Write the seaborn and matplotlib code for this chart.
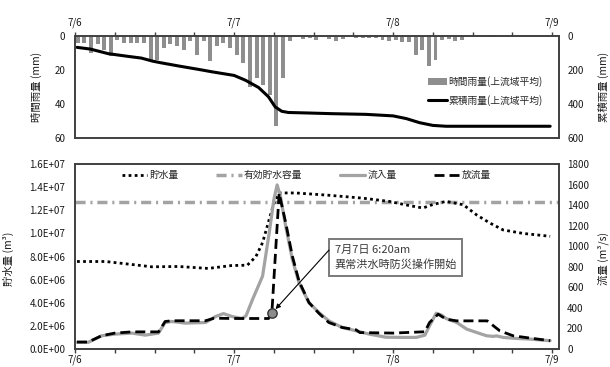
import matplotlib
matplotlib.use('Agg')
import matplotlib.pyplot as plt
import matplotlib.ticker as mticker
import seaborn as sns
from matplotlib.lines import Line2D
from matplotlib.patches import Patch

# ---------------- data ----------------
day_ticks = [0, 24, 48, 72]
day_labels = ['7/6', '7/7', '7/8', '7/9']

# hourly rainfall (mm), hours from 7/6 0:00
rain_hour = list(range(72))
rain_mm = [4, 4, 10, 5, 8, 12, 2.5, 4, 4, 4, 4, 14, 14, 7, 5, 6, 8, 3, 11, 3, 15, 6, 4, 7,
           11, 16, 30, 25, 29, 35, 53, 25, 3.2, 0.5, 1.6, 1, 2.2, 0.5, 2, 2.8, 1.6, 0.3,
           1.2, 1.2, 1.2, 1.2, 2.4, 3.2,
           2.2, 3.7, 3.7, 11.4, 8.5, 17.7, 14, 2.2, 1.6, 3.2, 2.2, 0, 0, 0, 0.4, 0.4,
           0, 0, 0, 0, 0, 0, 0, 0]

# cumulative rainfall (mm)
cum_hour = [0.3, 2.3, 5, 8, 10, 11.7, 13, 15.7, 18.7, 20.7, 24, 25.7, 27.7, 29.2, 30.2,
            31.2, 32.2, 35.2, 38.8, 43.9, 48, 50, 52, 54, 56, 60, 66, 71.7]
cum_mm = [67, 77, 104, 120, 130, 148, 158, 177, 197, 211, 232, 260, 303, 358, 417,
          443, 450, 453, 457, 461, 470, 486, 510, 526, 531, 531, 531, 531]

# storage (m3)
storage_hour = [0.3, 4.6, 8.6, 11.6, 15.6, 20.1, 23.6, 26, 27.3, 28.3, 29.3, 30, 30.8,
                33.3, 38.3, 43.4, 47.4, 50.5, 52.5, 54, 56, 58.6, 60.6, 62.6, 64.6,
                67.6, 71.7]
storage_m3 = [7.57e6, 7.57e6, 7.31e6, 7.11e6, 7.14e6, 6.97e6, 7.22e6, 7.25e6, 8.0e6,
              9.2e6, 11.2e6, 12.6e6, 13.5e6, 13.5e6, 13.3e6, 13.05e6, 12.77e6, 12.4e6,
              12.2e6, 12.5e6, 12.77e6, 12.48e6, 11.6e6, 10.9e6, 10.3e6, 10.0e6, 9.75e6]
capacity_m3 = 1.27e7

# inflow (m3/s)
inflow_hour = [0.3, 2, 4, 6, 8.6, 10.6, 12.6, 13.6, 14.6, 16.6, 19.7, 21.2, 22.4, 23.7,
               25.2, 25.8, 26.8, 28.3, 29.3, 30, 30.5, 31, 31.8, 32.8, 33.8, 35.3, 36.8,
               38.3, 40.3, 42.4, 44.4, 46.9, 49.5, 51.5, 52.8, 53.5, 54.5, 55.3, 56,
               57.6, 59.1, 60.6, 62.1, 63.1, 63.6, 64.6, 66.6, 68.6, 71.7]
inflow_q = [65, 65, 129, 145, 155, 135, 155, 258, 268, 252, 258, 316, 345, 316,
            297, 323, 484, 709, 1129, 1452, 1597, 1484, 1193, 871, 645, 452, 355,
            274, 210, 177, 145, 115, 113, 113, 135, 226, 348, 330, 297,
            258, 194, 161, 129, 123, 128, 113, 103, 97, 81]

# outflow (m3/s)
outflow_hour = [0.3, 2, 4, 6, 8.6, 12.6, 13.6, 14.6, 19.7, 21, 23.7, 29.2, 29.7, 30.8,
                31.8, 32.8, 33.8, 35.3, 36.8, 38.3, 40.3, 42.4, 43, 48, 52.8, 53.5,
                54.8, 56, 57.6, 62.2, 64.1, 66.1, 68.7, 71.7]
outflow_q = [68, 68, 129, 155, 167, 167, 268, 275, 275, 300, 297, 297, 348, 1516,
             1226, 903, 661, 452, 348, 258, 210, 187, 160, 155, 168, 258,
             339, 290, 274, 274, 177, 129, 106, 81]

# start of emergency operation (7/7 6:20am) marker
op_hour = 29.7
op_q = 348

label_rain = '時間雨量(上流域平均)'
label_cum = '累積雨量(上流域平均)'
label_storage = '貯水量'
label_capacity = '有効貯水容量'
label_inflow = '流入量'
label_outflow = '放流量'
annot_text = '7月7日 6:20am\n異常洪水時防災操作開始'

# ---------------- style ----------------
sns.set_style('ticks')
plt.rcParams['font.family'] = ['Noto Sans CJK JP', 'DejaVu Sans']
plt.rcParams['axes.unicode_minus'] = False

SP = '#404040'
GRAY_BAR = '#8e8e8e'
GRAY_LINE = '#a3a3a3'
TXT = '#1a1a1a'
FS = 7

fig = plt.figure(figsize=(6.10, 3.67), dpi=100)
fig.patch.set_facecolor('white')

# ---------------- top panel ----------------
ax_t = fig.add_axes([0.123, 0.624, 0.793, 0.278])
ax_t2 = ax_t.twinx()

sns.barplot(x=[h + 0.4 for h in rain_hour], y=rain_mm, native_scale=True, width=0.6,
            color=GRAY_BAR, errorbar=None, linewidth=0, saturation=1, ax=ax_t)
sns.lineplot(x=cum_hour, y=cum_mm, color='black', lw=2.2, ax=ax_t2)

ax_t.set_xlim(0, 73)
ax_t.set_ylim(60, 0)
ax_t2.set_ylim(600, 0)
ax_t.set_yticks([0, 20, 40, 60])
ax_t2.set_yticks([0, 200, 400, 600])
ax_t.xaxis.tick_top()
ax_t.set_xticks(day_ticks)
ax_t.set_xticklabels(day_labels)
ax_t.set_xticks(range(0, 73, 6), minor=True)
ax_t.tick_params(axis='x', which='both', direction='out', length=3, width=1,
                 color=SP, pad=2.5, labelsize=FS, labelcolor=TXT, top=True, bottom=False)
ax_t.tick_params(axis='y', length=0, pad=7, labelsize=FS, labelcolor=TXT)
ax_t2.tick_params(axis='y', length=0, pad=6.5, labelsize=FS, labelcolor=TXT)
ax_t.set_xlabel('')
ax_t.set_ylabel('時間雨量 (mm)', fontsize=7.5, color=TXT)
ax_t2.set_ylabel('累積雨量 (mm)', fontsize=7.5, color=TXT, rotation=90)
ax_t.yaxis.set_label_coords(-0.068, 0.5)
ax_t2.yaxis.set_label_coords(1.081, 0.5)
for a in (ax_t, ax_t2):
    for s in a.spines.values():
        s.set_visible(True)
        s.set_color(SP)
        s.set_linewidth(1.2)

h_top = [Patch(facecolor=GRAY_BAR, edgecolor='none'),
         Line2D([], [], color='black', lw=2.2)]
ax_t2.legend(h_top, [label_rain, label_cum], loc='center left',
             bbox_to_anchor=(0.729, 0.46), frameon=False, fontsize=FS,
             handlelength=2.0, handletextpad=0.1, labelspacing=0.75,
             borderpad=0, borderaxespad=0)

# ---------------- bottom panel ----------------
ax_b = fig.add_axes([0.123, 0.049, 0.793, 0.504])
ax_b2 = ax_b.twinx()

dot_ls = (0, (1, 1.2))
dashdot_ls = (0, (2.9, 1.4, 0.6, 1.4))
dash_ls = (0, (3.6, 1.8))

ax_b.axhline(capacity_m3, color=GRAY_LINE, lw=2.5, linestyle=dashdot_ls)
sns.lineplot(x=storage_hour, y=storage_m3, color='black', lw=2.0,
             linestyle=dot_ls, ax=ax_b)
sns.lineplot(x=inflow_hour, y=inflow_q, color=GRAY_LINE, lw=2.3, ax=ax_b2)
sns.lineplot(x=outflow_hour, y=outflow_q, color='black', lw=2.0,
             linestyle=dash_ls, ax=ax_b2)
sns.scatterplot(x=[op_hour], y=[op_q], s=45, color='#8c8c8c', edgecolor='#333333',
                linewidth=1.0, zorder=6, ax=ax_b2)

ax_b.set_xlim(0, 73)
ax_b.set_ylim(0, 1.6e7)
ax_b2.set_ylim(0, 1800)
ax_b.set_yticks([i * 2e6 for i in range(9)])
ax_b.yaxis.set_major_formatter(mticker.FuncFormatter(lambda v, p: f'{v:.1E}'))
ax_b2.set_yticks(range(0, 1801, 200))
ax_b.set_xticks(day_ticks)
ax_b.set_xticklabels(day_labels)
ax_b.set_xticks(range(0, 73, 6), minor=True)
ax_b.tick_params(axis='x', which='both', direction='out', length=3, width=1,
                 color=SP, pad=1, labelsize=FS, labelcolor=TXT, bottom=True)
ax_b.tick_params(axis='y', length=0, pad=7, labelsize=FS, labelcolor=TXT)
ax_b2.tick_params(axis='y', length=0, pad=6, labelsize=FS, labelcolor=TXT)
ax_b.set_xlabel('')
ax_b.set_ylabel('貯水量 (m³)', fontsize=7.5, color=TXT)
ax_b2.set_ylabel('流量 (m³/s)', fontsize=7.5, color=TXT, rotation=90)
ax_b.yaxis.set_label_coords(-0.126, 0.49)
ax_b2.yaxis.set_label_coords(1.081, 0.49)
for a in (ax_b, ax_b2):
    for s in a.spines.values():
        s.set_visible(True)
        s.set_color(SP)
        s.set_linewidth(1.2)

h_bot = [Line2D([], [], color='black', lw=2.0, linestyle=dot_ls),
         Line2D([], [], color=GRAY_LINE, lw=2.5, linestyle=dashdot_ls),
         Line2D([], [], color=GRAY_LINE, lw=2.3),
         Line2D([], [], color='black', lw=2.0, linestyle=dash_ls)]
ax_b2.legend(h_bot, [label_storage, label_capacity, label_inflow, label_outflow],
             loc='center left', bbox_to_anchor=(0.097, 0.94), ncol=4, frameon=False,
             fontsize=FS, handlelength=2.6, handletextpad=0.2, columnspacing=3.9,
             borderpad=0, borderaxespad=0)

# annotation box + arrow
ax_b2.text(0.663, 0.495, annot_text, transform=ax_b2.transAxes, ha='center',
           va='center', multialignment='left', fontsize=8, color='#3a3a3a',
           linespacing=1.6,
           bbox=dict(boxstyle='square,pad=0.5', facecolor='white',
                     edgecolor='#7a7a7a', linewidth=1.4), zorder=7)
ax_b2.annotate('', xy=(op_hour, op_q), xycoords='data',
               xytext=(0.525, 0.535), textcoords='axes fraction',
               arrowprops=dict(arrowstyle='-|>', color='black', lw=0.8,
                               mutation_scale=7, shrinkA=0, shrinkB=4),
               zorder=7)

fig.savefig('out.png', dpi=100, facecolor='white')
